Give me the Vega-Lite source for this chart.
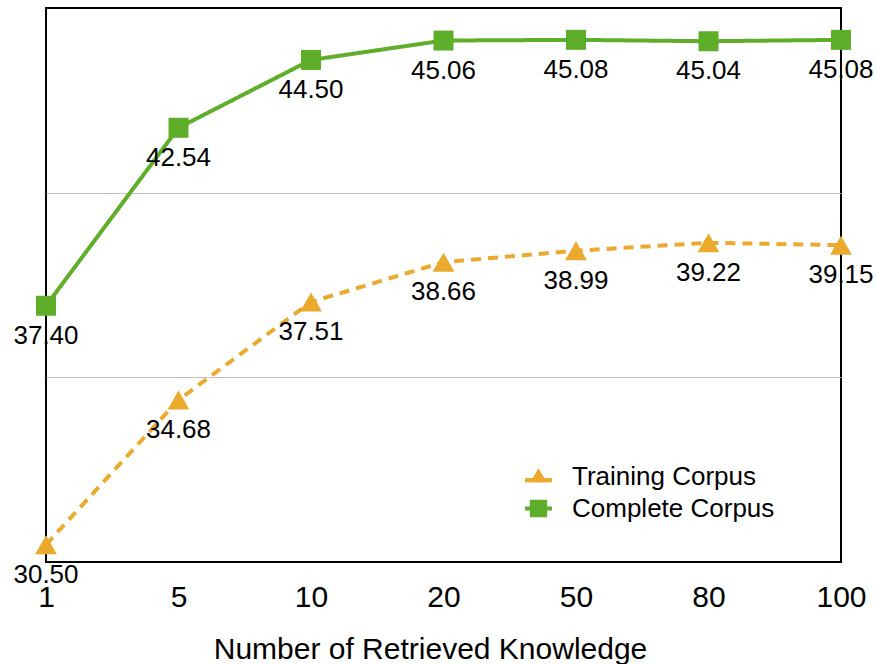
{
  "$schema": "https://vega.github.io/schema/vega-lite/v6.json",
  "width": 795,
  "height": 554,
  "autosize": "none",
  "padding": {"left": 46, "top": 8, "right": 35, "bottom": 102},
  "background": "white",
  "config": {
    "font": "Liberation Sans",
    "view": {"stroke": "black", "strokeWidth": 2}
  },
  "data": {
    "values": [
      {"k": "1", "series": "Training Corpus", "v": 30.50},
      {"k": "5", "series": "Training Corpus", "v": 34.68},
      {"k": "10", "series": "Training Corpus", "v": 37.51},
      {"k": "20", "series": "Training Corpus", "v": 38.66},
      {"k": "50", "series": "Training Corpus", "v": 38.99},
      {"k": "80", "series": "Training Corpus", "v": 39.22},
      {"k": "100", "series": "Training Corpus", "v": 39.15},
      {"k": "1", "series": "Complete Corpus", "v": 37.40},
      {"k": "5", "series": "Complete Corpus", "v": 42.54},
      {"k": "10", "series": "Complete Corpus", "v": 44.50},
      {"k": "20", "series": "Complete Corpus", "v": 45.06},
      {"k": "50", "series": "Complete Corpus", "v": 45.08},
      {"k": "80", "series": "Complete Corpus", "v": 45.04},
      {"k": "100", "series": "Complete Corpus", "v": 45.08}
    ]
  },
  "encoding": {
    "x": {
      "field": "k", "type": "ordinal",
      "sort": ["1", "5", "10", "20", "50", "80", "100"],
      "scale": {"type": "point", "padding": 0},
      "axis": {
        "title": "Number of Retrieved Knowledge",
        "titleFontSize": 30, "titleFontWeight": "normal", "titleColor": "black", "titlePadding": 22, "titleX": 384,
        "labelFontSize": 30, "labelColor": "black", "labelAngle": 0, "labelPadding": 20,
        "ticks": false, "domain": false, "grid": false
      }
    },
    "y": {
      "field": "v", "type": "quantitative",
      "scale": {"domain": [30, 46], "nice": false, "zero": false},
      "axis": {
        "title": null, "labels": false, "ticks": false, "domain": false,
        "values": [35.3333, 40.6667], "grid": true, "gridColor": "#c0c0c0", "gridWidth": 1
      }
    },
    "color": {
      "field": "series", "type": "nominal",
      "scale": {"domain": ["Training Corpus", "Complete Corpus"], "range": ["#EBAA2E", "#5EAE2A"]},
      "legend": {
        "title": null, "orient": "none", "legendX": 479, "legendY": 455,
        "labelFontSize": 26, "labelColor": "black", "labelLimit": 400,
        "symbolSize": 729, "rowPadding": 5, "labelOffset": 20,
        "encode": {
          "symbols": {
            "update": {
              "shape": {"signal": "datum.value === 'Training Corpus' ? 'M-1,0.12H1V0.42H-1Z M0,-0.62L0.62,0.45L-0.62,0.45Z' : 'M-1,-0.15H1V0.15H-1Z M-0.64,-0.64H0.64V0.64H-0.64Z'"},
              "fill": {"signal": "datum.value === 'Training Corpus' ? '#EBAA2E' : '#5EAE2A'"},
              "stroke": {"value": "transparent"},
              "strokeWidth": {"value": 0},
              "strokeDash": {"value": [1, 0]},
              "size": {"value": 729},
              "opacity": {"value": 1}
            }
          }
        }
      }
    }
  },
  "layer": [
    {
      "mark": {"type": "line", "strokeWidth": 4},
      "encoding": {
        "strokeDash": {
          "field": "series", "type": "nominal",
          "scale": {"domain": ["Training Corpus", "Complete Corpus"], "range": [[10, 7], [1, 0]]},
          "legend": null
        }
      }
    },
    {
      "transform": [{"filter": "datum.series === 'Training Corpus'"}],
      "mark": {"type": "point", "filled": true, "opacity": 1, "shape": "triangle-up", "size": 480}
    },
    {
      "transform": [{"filter": "datum.series === 'Complete Corpus'"}],
      "mark": {"type": "point", "filled": true, "opacity": 1, "shape": "square", "size": 400}
    },
    {
      "mark": {"type": "text", "fontSize": 26, "color": "black", "dy": 30, "baseline": "middle"},
      "encoding": {
        "text": {"field": "v", "type": "quantitative", "format": ".2f"},
        "color": {"value": "black"}
      }
    }
  ]
}
